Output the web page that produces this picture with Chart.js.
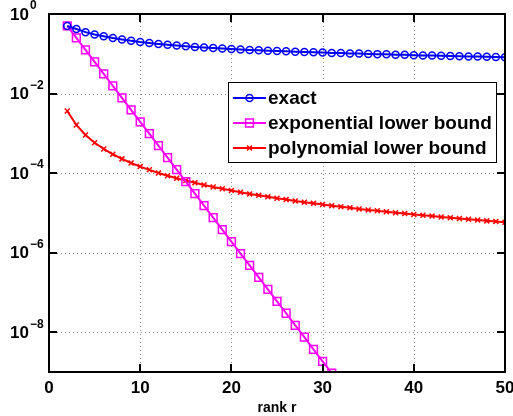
<!DOCTYPE html>
<html>
<head>
<meta charset="utf-8">
<script src="https://cdn.jsdelivr.net/npm/chart.js@4.4.0/dist/chart.umd.min.js"></script>
<style>
body { margin: 0; background: #fff; }
</style>
</head>
<body>
<canvas id="chart1" width="513" height="416"></canvas>
<script>
// rank r
var ranks = [2, 3, 4, 5, 6, 7, 8, 9, 10, 11, 12, 13, 14, 15, 16, 17, 18, 19, 20, 21, 22, 23, 24, 25, 26,
    27, 28, 29, 30, 31, 32, 33, 34, 35, 36, 37, 38, 39, 40, 41, 42, 43, 44, 45, 46, 47, 48, 49, 50];

var exact = [0.50, 0.42, 0.35, 0.305, 0.275, 0.25, 0.23, 0.212, 0.197, 0.186, 0.176, 0.168, 0.161, 0.155,
    0.149, 0.144, 0.139, 0.135, 0.131, 0.128, 0.125, 0.122, 0.119, 0.117, 0.115, 0.113, 0.111, 0.109,
    0.107, 0.105, 0.104, 0.102, 0.101, 0.099, 0.098, 0.097, 0.095, 0.094, 0.092, 0.091, 0.090, 0.089,
    0.088, 0.087, 0.086, 0.085, 0.084, 0.083, 0.082];

var expLower = [0.5, 0.25, 0.125, 0.0625, 0.03125, 0.0156, 7.8e-3, 3.9e-3, 1.95e-3, 9.8e-4, 4.9e-4,
    2.44e-4, 1.22e-4, 6.1e-5, 3.05e-5, 1.53e-5, 7.6e-6, 3.8e-6, 1.9e-6, 9.5e-7, 4.8e-7, 2.4e-7,
    1.19e-7, 6.0e-8, 3.0e-8, 1.49e-8, 7.5e-9, 3.7e-9, 1.86e-9, 9.3e-10, 4.7e-10];

var polyLower = [3.65e-3, 1.62e-3, 9.1e-4, 5.8e-4, 4.05e-4, 2.98e-4, 2.28e-4, 1.8e-4, 1.46e-4, 1.21e-4,
    1.01e-4, 8.6e-5, 7.4e-5, 6.5e-5, 5.7e-5, 5.05e-5, 4.5e-5, 4.05e-5, 3.65e-5, 3.3e-5, 3.0e-5,
    2.76e-5, 2.53e-5, 2.34e-5, 2.16e-5, 2.0e-5, 1.86e-5, 1.74e-5, 1.62e-5, 1.52e-5, 1.43e-5, 1.34e-5,
    1.26e-5, 1.19e-5, 1.13e-5, 1.07e-5, 1.01e-5, 9.6e-6, 9.1e-6, 8.7e-6, 8.3e-6, 7.9e-6, 7.5e-6,
    7.2e-6, 6.9e-6, 6.6e-6, 6.3e-6, 6.1e-6, 5.8e-6];

var xTicks = [0, 10, 20, 30, 40, 50];
var yTicks = [1, 1e-2, 1e-4, 1e-6, 1e-8];
var yExps = ['0', '\u22122', '\u22124', '\u22126', '\u22128'];
var seriesNames = ['exact', 'exponential lower bound', 'polynomial lower bound'];

var fuente = '"Liberation Sans", Arial, Helvetica, sans-serif';

function puntos(valores) {
    var arr = [];
    for (var i = 0; i < valores.length; i++) {
        arr.push({ x: ranks[i], y: valores[i] });
    }
    return arr;
}

function linea(ctx, x1, y1, x2, y2) {
    ctx.beginPath();
    ctx.moveTo(x1, y1);
    ctx.lineTo(x2, y2);
    ctx.stroke();
}

// cuadricula punteada debajo de las series
const cuadricula = {
    id: 'cuadricula',
    beforeDatasetsDraw: function (chart) {
        const ctx = chart.ctx;
        const a = chart.chartArea;
        ctx.save();
        ctx.strokeStyle = '#8c8c8c';
        ctx.lineWidth = 1;
        ctx.setLineDash([1, 3]);
        for (var i = 1; i < xTicks.length - 1; i++) {
            var px = Math.round(chart.scales.x.getPixelForValue(xTicks[i])) + 0.5;
            linea(ctx, px, a.top, px, a.bottom);
        }
        for (var j = 1; j < yTicks.length; j++) {
            var py = Math.round(chart.scales.y.getPixelForValue(yTicks[j])) + 0.5;
            linea(ctx, a.left, py, a.right, py);
        }
        ctx.restore();
    }
};

// ejes, marcas, etiquetas y leyenda al estilo matlab
const ejesMatlab = {
    id: 'ejesMatlab',
    afterDraw: function (chart) {
        const ctx = chart.ctx;
        const a = chart.chartArea;
        const xs = chart.scales.x;
        const ys = chart.scales.y;
        ctx.save();

        ctx.strokeStyle = '#000';
        ctx.lineWidth = 2;
        for (var i = 0; i < xTicks.length; i++) {
            var px = Math.round(xs.getPixelForValue(xTicks[i]));
            linea(ctx, px, a.bottom, px, a.bottom - 8);
            linea(ctx, px, a.top, px, a.top + 8);
        }
        for (var j = 0; j < yTicks.length; j++) {
            var py = Math.round(ys.getPixelForValue(yTicks[j]));
            linea(ctx, a.left, py, a.left + 8, py);
            linea(ctx, a.right, py, a.right - 8, py);
        }
        ctx.strokeRect(a.left, a.top, a.right - a.left, a.bottom - a.top);

        // etiquetas eje x
        ctx.fillStyle = '#000';
        ctx.font = 'bold 17px ' + fuente;
        ctx.textAlign = 'center';
        ctx.textBaseline = 'middle';
        for (var i = 0; i < xTicks.length; i++) {
            ctx.fillText(String(xTicks[i]), xs.getPixelForValue(xTicks[i]), 388);
        }
        ctx.font = 'bold 14px ' + fuente;
        ctx.fillText('rank r', (a.left + a.right) / 2, 408);

        // etiquetas eje y 10^n
        ctx.textAlign = 'left';
        for (var j = 0; j < yTicks.length; j++) {
            var py = ys.getPixelForValue(yTicks[j]);
            ctx.font = 'bold 17px ' + fuente;
            ctx.fillText('10', 10, py + 1);
            var w = ctx.measureText('10').width;
            ctx.font = 'bold 12px ' + fuente;
            ctx.fillText(yExps[j], 10 + w + 1, py - 8);
        }

        // leyenda
        var lx = 228, ly = 82, lw = 268, lh = 80;
        ctx.fillStyle = '#fff';
        ctx.fillRect(lx, ly, lw, lh);
        ctx.strokeStyle = '#000';
        ctx.lineWidth = 1;
        ctx.strokeRect(lx + 0.5, ly + 0.5, lw, lh);
        for (var k = 0; k < chart.data.datasets.length; k++) {
            var ds = chart.data.datasets[k];
            var ry = 98 + k * 25;
            ctx.strokeStyle = ds.borderColor;
            ctx.lineWidth = 2;
            linea(ctx, 233, ry, 266, ry);
            ctx.fillStyle = 'rgba(0,0,0,0)';
            ctx.lineWidth = ds.pointBorderWidth;
            Chart.helpers.drawPoint(ctx, {
                pointStyle: ds.pointStyle,
                radius: ds.pointRadius,
                borderWidth: ds.pointBorderWidth,
                rotation: 0
            }, 249.5, ry);
            ctx.fillStyle = '#000';
            ctx.font = 'bold 19px ' + fuente;
            ctx.textBaseline = 'middle';
            ctx.fillText(seriesNames[k], 268, ry + 1);
        }
        ctx.restore();
    }
};

const dat = {
    datasets: [{
        label: seriesNames[0],
        data: puntos(exact),
        borderColor: '#0000ff',
        backgroundColor: '#0000ff',
        borderWidth: 2,
        pointStyle: 'circle',
        pointRadius: 3.5,
        pointBorderWidth: 1.5,
        pointBackgroundColor: 'rgba(0,0,0,0)',
        pointBorderColor: '#0000ff'
    }, {
        label: seriesNames[1],
        data: puntos(expLower),
        borderColor: '#ff00ff',
        backgroundColor: '#ff00ff',
        borderWidth: 2,
        pointStyle: 'rect',
        pointRadius: 5.5,
        pointBorderWidth: 1.5,
        pointBackgroundColor: 'rgba(0,0,0,0)',
        pointBorderColor: '#ff00ff'
    }, {
        label: seriesNames[2],
        data: puntos(polyLower),
        borderColor: '#ff0000',
        backgroundColor: '#ff0000',
        borderWidth: 2,
        pointStyle: 'crossRot',
        pointRadius: 3.5,
        pointBorderWidth: 1.5,
        pointBorderColor: '#ff0000'
    }]
};

const config = {
    type: 'line',
    data: dat,
    options: {
        responsive: false,
        animation: false,
        events: [],
        layout: { padding: { top: 14, right: 8, left: 0, bottom: 0 } },
        plugins: {
            legend: { display: false },
            tooltip: { enabled: false }
        },
        scales: {
            x: {
                type: 'linear',
                min: 0,
                max: 50,
                afterBuildTicks: function (s) {
                    s.ticks = xTicks.map(function (v) { return { value: v }; });
                },
                afterFit: function (s) { s.height = 44; },
                ticks: { display: false },
                border: { display: false },
                grid: { display: false }
            },
            y: {
                type: 'logarithmic',
                min: 1e-9,
                max: 1,
                afterBuildTicks: function (s) {
                    s.ticks = yTicks.map(function (v) { return { value: v }; });
                },
                afterFit: function (s) { s.width = 49; },
                ticks: { display: false },
                border: { display: false },
                grid: { display: false }
            }
        }
    },
    plugins: [cuadricula, ejesMatlab]
};

const myChart = new Chart(
    document.getElementById('chart1'),
    config
);
</script>
</body>
</html>
